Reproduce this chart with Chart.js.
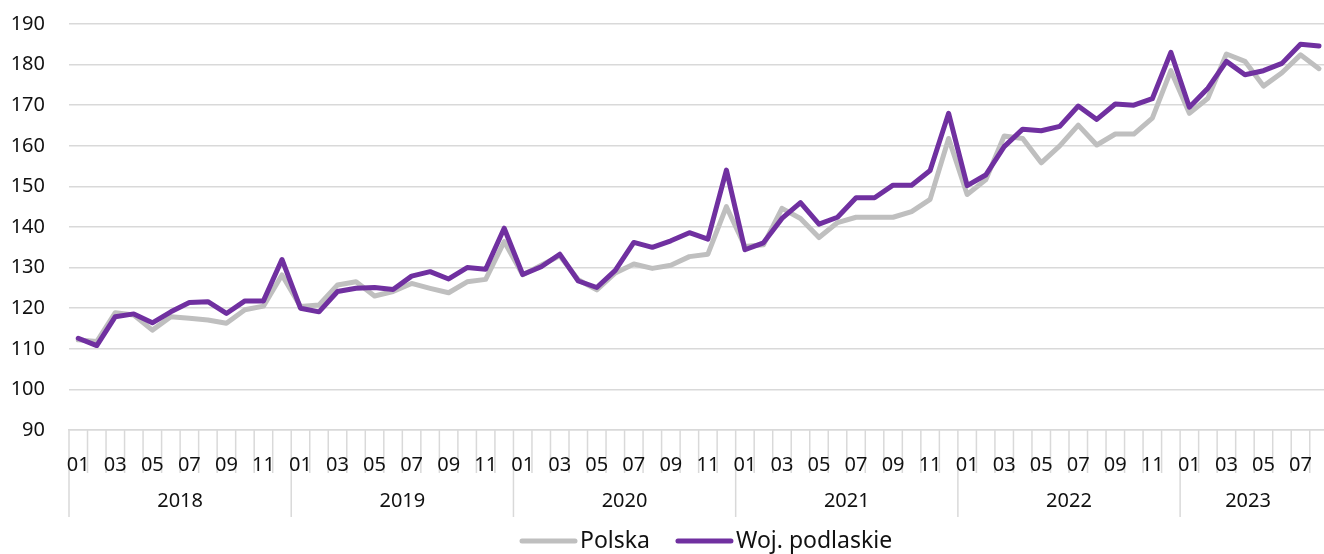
<!DOCTYPE html>
<html>
<head>
<meta charset="utf-8">
<script src="https://cdn.jsdelivr.net/npm/chart.js@4.4.1/dist/chart.umd.min.js"></script>
<style>
    html, body { margin: 0; padding: 0; background: #fff; overflow: hidden; }
    #wrap { width: 1324px; height: 554px; overflow: hidden; position: relative; }
    #chart { position: absolute; left: 0; top: 0; }
</style>
</head>
<body>
<div id="wrap"><canvas id="chart" width="1334" height="554" style="width:1334px;height:554px"></canvas></div>
<script>
// Monthly index, 2018-01 .. 2023-08
const years = ["2018", "2019", "2020", "2021", "2022", "2023"];
const monthLabels = ["01", "02", "03", "04", "05", "06", "07", "08", "09", "10", "11", "12"];
const lastMonthCount = 8; // 2023 ends in August

const polska = [
    112.2, 111.8, 118.9, 118.3, 114.6, 117.9, 117.5, 117.1, 116.3, 119.6, 120.5, 128.2,
    120.4, 120.8, 125.7, 126.5, 123.0, 124.1, 126.1, 124.9, 123.8, 126.5, 127.1, 136.4,
    128.2, 130.6, 132.9, 127.0, 124.5, 128.7, 130.9, 129.8, 130.6, 132.7, 133.3, 145.0,
    135.2, 135.6, 144.6, 142.1, 137.4, 141.1, 142.4, 142.4, 142.4, 143.8, 146.8, 161.8,
    148.0, 151.6, 162.4, 161.8, 155.8, 160.0, 165.1, 160.2, 162.9, 162.9, 166.8, 178.5,
    168.0, 171.7, 182.6, 180.8, 174.7, 178.0, 182.4, 179.0
];
const podlaskie = [
    112.6, 110.8, 117.9, 118.6, 116.4, 119.1, 121.4, 121.6, 118.7, 121.8, 121.8, 132.0,
    120.0, 119.1, 124.1, 124.9, 125.1, 124.6, 127.9, 129.0, 127.2, 130.0, 129.6, 139.7,
    128.3, 130.2, 133.3, 126.7, 125.1, 129.3, 136.2, 135.0, 136.6, 138.6, 137.0, 154.0,
    134.4, 136.1, 142.1, 146.0, 140.7, 142.4, 147.2, 147.2, 150.3, 150.3, 153.9, 168.0,
    150.2, 152.8, 159.8, 164.1, 163.7, 164.8, 169.8, 166.5, 170.3, 170.0, 171.6, 183.0,
    169.5, 174.2, 180.8, 177.5, 178.5, 180.3, 185.0, 184.6
];

const categories = [];
years.forEach((y, k) => {
    const count = k === years.length - 1 ? lastMonthCount : 12;
    for (let m = 0; m < count; m++) categories.push(y + "-" + monthLabels[m]);
});

const FONT = "'Noto Sans', sans-serif";
const GRID = "#d9d9d9";
const TEXT = "#111";

// Excel-style category axis: boundary ticks, long year separators, year labels, legend
const axisExtras = {
    id: "axisExtras",
    beforeDraw(chart) {
        const { ctx, scales: { x } } = chart;
        const n = categories.length;
        const step = (x.right - x.left) / n;
        const top = x.top;
        ctx.save();
        ctx.strokeStyle = GRID;
        ctx.lineWidth = 1.5;
        for (let i = 0; i <= n; i++) {
            const px = x.left + i * step;
            const bottom = i % 12 === 0 ? top + 87 : top + 43;
            ctx.beginPath();
            ctx.moveTo(px, top);
            ctx.lineTo(px, bottom);
            ctx.stroke();
        }
        ctx.restore();
    },
    afterDraw(chart) {
        const { ctx, scales: { x } } = chart;
        const n = categories.length;
        const step = (x.right - x.left) / n;
        const top = x.top;
        ctx.save();
        ctx.fillStyle = TEXT;
        ctx.font = "20px " + FONT;
        ctx.textAlign = "center";
        ctx.textBaseline = "middle";
        years.forEach((y, k) => {
            const start = x.left + k * 12 * step;
            const end = Math.min(start + 12 * step, 1316);
            ctx.fillText(y, (start + end) / 2, top + 71);
        });

        // legend
        ctx.font = "23px " + FONT;
        ctx.textAlign = "left";
        let lx = 522;
        const ly = 541;
        chart.data.datasets.forEach((ds) => {
            ctx.strokeStyle = ds.borderColor;
            ctx.lineWidth = 5;
            ctx.lineCap = "round";
            ctx.beginPath();
            ctx.moveTo(lx, ly);
            ctx.lineTo(lx + 53, ly);
            ctx.stroke();
            lx += 58;
            ctx.fillText(ds.label, lx, ly);
            lx += ctx.measureText(ds.label).width + 28;
        });
        ctx.restore();
    },
};

new Chart(document.getElementById("chart"), {
    type: "line",
    data: {
        labels: categories,
        datasets: [
            {
                label: "Polska",
                data: polska,
                borderColor: "#bfbfbf",
                backgroundColor: "#bfbfbf",
                borderWidth: 5,
                pointRadius: 0,
                tension: 0,
                borderJoinStyle: "round",
                borderCapStyle: "round",
                order: 2,
            },
            {
                label: "Woj. podlaskie",
                data: podlaskie,
                borderColor: "#7030a0",
                backgroundColor: "#7030a0",
                borderWidth: 5,
                pointRadius: 0,
                tension: 0,
                borderJoinStyle: "round",
                borderCapStyle: "round",
                order: 1,
            },
        ],
    },
    options: {
        responsive: false,
        animation: false,
        layout: { padding: 0 },
        plugins: {
            legend: { display: false },
            tooltip: { enabled: false },
        },
        scales: {
            x: {
                offset: true,
                grid: { display: false, offset: true },
                border: { display: true, color: GRID, width: 1.5 },
                ticks: {
                    autoSkip: false,
                    maxRotation: 0,
                    minRotation: 0,
                    padding: 15,
                    color: TEXT,
                    font: { family: FONT, size: 20 },
                    callback: (val, i) => (i % 2 === 0 ? categories[i].slice(5) : ""),
                },
                afterFit: (scale) => { scale.height = 124; },
            },
            y: {
                min: 90,
                max: 190,
                ticks: {
                    stepSize: 10,
                    padding: 24,
                    color: TEXT,
                    font: { family: FONT, size: 20 },
                },
                grid: { color: GRID, lineWidth: 1.5, drawTicks: false },
                border: { display: false },
                afterFit: (scale) => {
                    scale.width = 69;
                    scale.paddingTop = 24;
                },
            },
        },
    },
    plugins: [axisExtras],
});
</script>
</body>
</html>
